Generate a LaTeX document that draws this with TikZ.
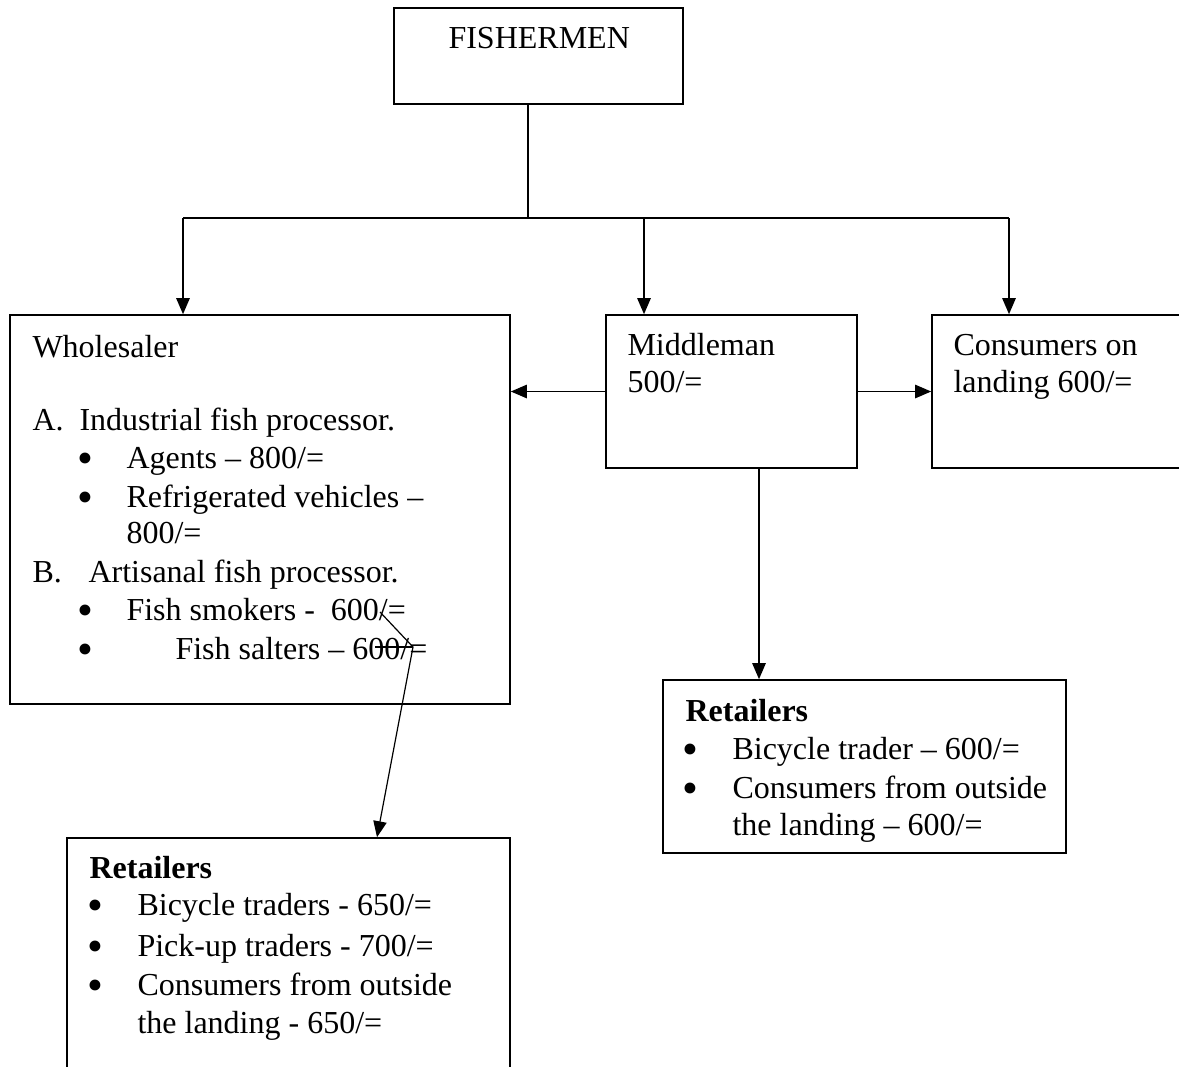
\documentclass[tikz,border=0pt]{standalone}
\usepackage{fontspec}
\setmainfont{Liberation Serif}
\usetikzlibrary{arrows.meta,fit}

\begin{document}
\begin{tikzpicture}[x=0.375pt,y=-0.375pt,
  box/.style={draw, line width=0.6pt, inner sep=0pt, rectangle},
  txt/.style={anchor=base west, inner sep=0pt, font=\fontsize{12}{14}\selectfont},
  bul/.style={anchor=base, inner sep=0pt, yshift=-2.2pt, text height=5pt, text depth=0pt,
    font=\fontsize{17}{17}\selectfont},
  link/.style={line width=0.6pt},
  arr/.style={line width=0.6pt, -{Triangle[length=6pt,width=5pt]}},
  thinarr/.style={line width=0.45pt, -{Triangle[length=6pt,width=5pt]}}]
\useasboundingbox (0,0) rectangle (1179,1066);
\clip (0,0) rectangle (1179,1066);

% boxes
\node[box, fit={(394,8) (683,104)}] (fish) {};
\node[box, fit={(10,315) (510,704)}] (whole) {};
\node[box, fit={(606,315) (857,468)}] (mid) {};
\node[box, fit={(932,315) (1220,468)}] (cons) {};
\node[box, fit={(663,680) (1066,853)}] (retR) {};
\node[box, fit={(67,838) (510,1100)}] (retL) {};

% top box
\node[txt] (tfish) at (448,48) {FISHERMEN};

% wholesaler
\node[txt] (w0) at (32,357) {Wholesaler};
\node[txt] (wA) at (32,430) {A.};
\node[txt] (wA1) at (79,430) {Industrial fish processor.};
\node[bul] (wb1) at (85,468) {•};
\node[txt] (w1) at (126,468) {Agents – 800/=};
\node[bul] (wb2) at (85,507) {•};
\node[txt] (w2) at (126,507) {Refrigerated vehicles –};
\node[txt] (w2b) at (126,543) {800/=};
\node[txt] (wB) at (32,582) {B.};
\node[txt] (wB1) at (88,582) {Artisanal fish processor.};
\node[bul] (wb3) at (85,620) {•};
\node[txt] (w3) at (126,620) {Fish smokers -\ \ 600/=};
\node[bul] (wb4) at (85,659) {•};
\node[txt] (w4) at (175,659) {Fish salters – 600/=};

% middleman
\node[txt] (m1) at (627,355) {Middleman};
\node[txt] (m2) at (627,392) {500/=};

% consumers on landing
\node[txt] (c1) at (953,355) {Consumers on};
\node[txt] (c2) at (953,392) {landing 600/=};

% retailers (right)
\node[txt] (r0) at (685,721) {\bfseries Retailers};
\node[bul] (rb1) at (690,759) {•};
\node[txt] (r1) at (732,759) {Bicycle trader – 600/=};
\node[bul] (rb2) at (690,798) {•};
\node[txt] (r2) at (732,798) {Consumers from outside};
\node[txt] (r2b) at (732,835) {the landing – 600/=};

% retailers (left)
\node[txt] (l0) at (89,878) {\bfseries Retailers};
\node[bul] (lb1) at (95,915) {•};
\node[txt] (l1) at (137,915) {Bicycle traders - 650/=};
\node[bul] (lb2) at (95,956) {•};
\node[txt] (l2) at (137,956) {Pick-up traders - 700/=};
\node[bul] (lb3) at (95,995) {•};
\node[txt] (l3) at (137,995) {Consumers from outside};
\node[txt] (l3b) at (137,1033) {the landing - 650/=};

% branch points
\coordinate (hub) at (528,218);
\coordinate (tw) at (183,218);
\coordinate (tm) at (644,218);
\coordinate (tc) at (1009,218);
\coordinate (drop) at (759,0);

\draw[link] (fish.south -| hub) -- (hub);
\draw[link] (tw) -- (tc);
\draw[arr] (tw) -- (tw |- whole.north);
\draw[arr] (tm) -- (tm |- mid.north);
\draw[arr] (tc) -- (tc |- cons.north);

\draw[arr] (mid.west) -- (mid.west -| whole.east);
\draw[arr] (mid.east) -- (cons.west);
\draw[arr] (drop |- mid.south) -- (drop |- retR.north);

% hand-drawn link from the artisanal processors
\coordinate (k1) at (380,612);
\coordinate (k2) at (413,647);
\coordinate (s0) at (375,647);
\coordinate (kend) at (377,0);
\draw[line width=0.45pt] (s0) -- (k2);
\draw[thinarr] (k1) -- (k2) -- (kend |- retL.north);
\end{tikzpicture}
\end{document}
